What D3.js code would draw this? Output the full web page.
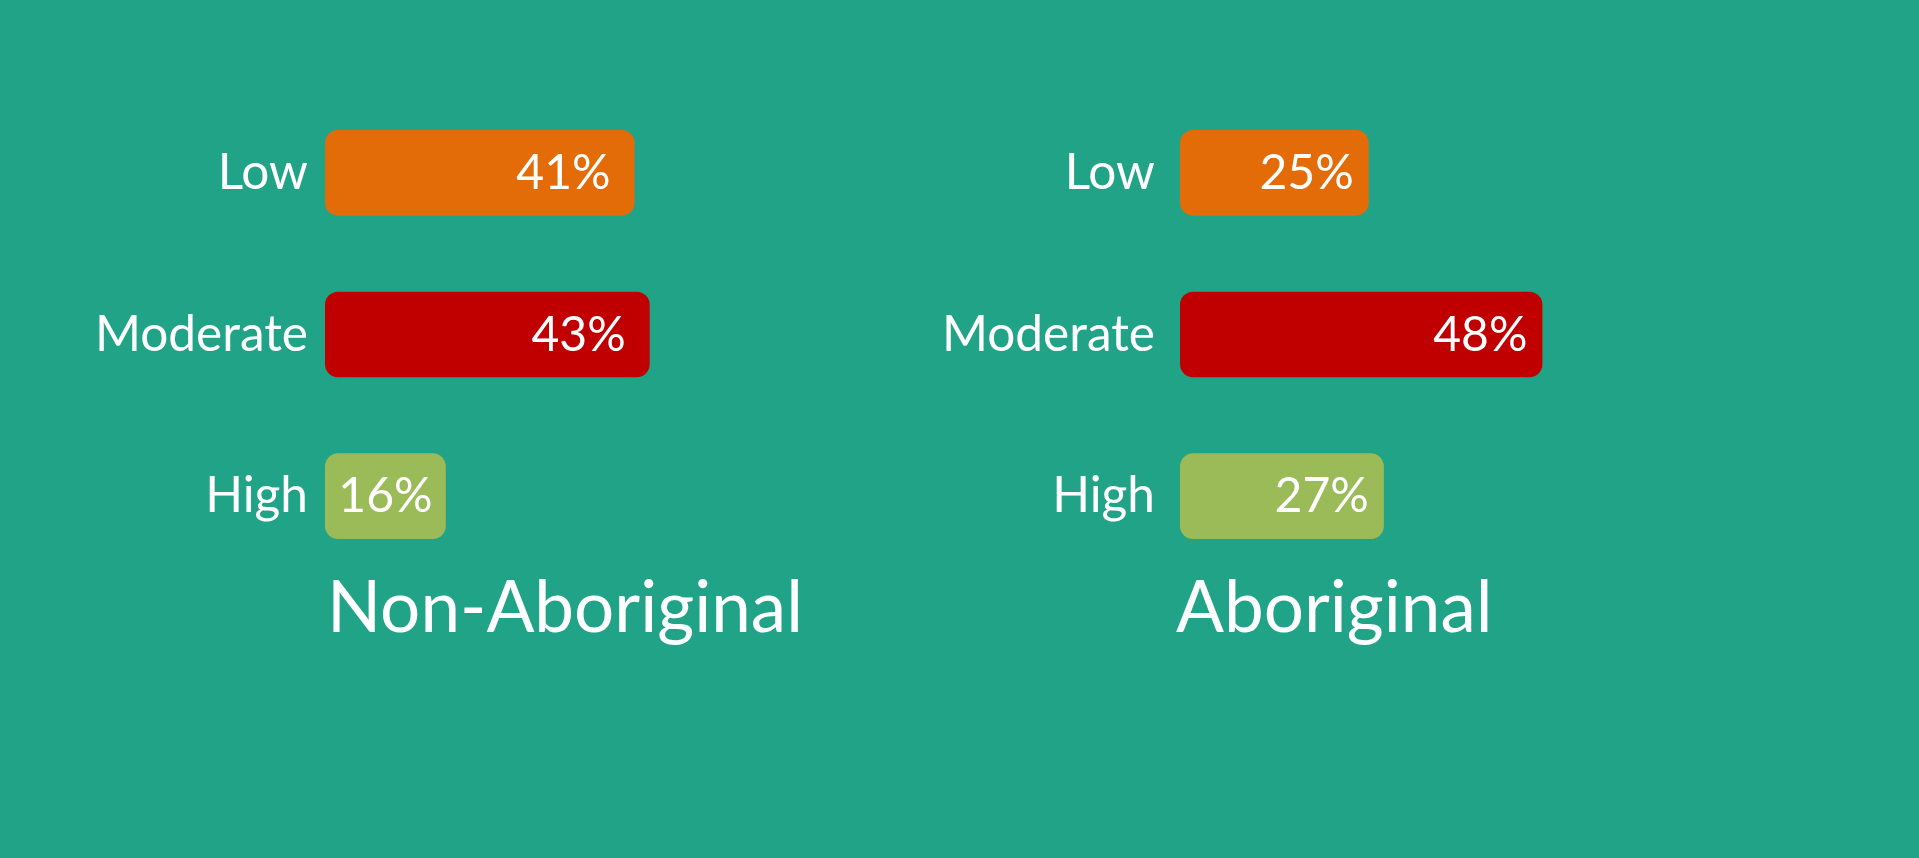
<!DOCTYPE html>
<html><head><meta charset="utf-8">
<script src="https://cdn.jsdelivr.net/npm/d3@7"></script>
<style>html,body{margin:0;padding:0;background:#20A386;overflow:hidden}</style>
</head><body><svg id="c" width="1919" height="858"></svg>
<script>
const categories = ["Low", "Moderate", "High"];
const groups = ["Non-Aboriginal", "Aboriginal"];
const nonAboriginalValues = [41, 43, 16];
const aboriginalValues = [25, 48, 27];
const barColors = ["#E36C09", "#C00000", "#9BBB59"];

const W = 1919, H = 858;
const FONT = "Lato, 'Open Sans', sans-serif";
const svg = d3.select("#c");
svg.append("rect").attr("width", W).attr("height", H).attr("fill", "#20A386");

// fit font sizes to the reference text widths
function fitSize(text, target) {
  const t = svg.append("text").attr("font-family", FONT).attr("font-size", 100).text(text);
  const w = t.node().getComputedTextLength();
  t.remove();
  return 100 * target / w;
}
const labelSize = fitSize("Moderate", 213);
const valueSize = labelSize * 0.97;
const titleSize = fitSize("Non-Aboriginal", 476);
const baseOffset = 16;

const x = d3.scaleLinear().domain([0, 100]).range([0, 755]);
const y = d3.scaleBand().domain(categories).range([92, 577]).paddingInner(0.47).paddingOuter(0.235);
const color = d3.scaleOrdinal().domain(categories).range(barColors);

const panels = [
  {name: groups[0], values: nonAboriginalValues, x0: 325, labelEnd: 308, pad: 24, titleX: 327},
  {name: groups[1], values: aboriginalValues, x0: 1180, labelEnd: 1155, pad: 15, titleX: 1176}
];

panels.forEach(p => {
  const g = svg.append("g");
  const data = categories.map((c, i) => ({cat: c, v: p.values[i]}));
  const cy = d => y(d.cat) + y.bandwidth() / 2 + baseOffset;

  g.selectAll("rect.bar").data(data).join("rect")
    .attr("class", "bar")
    .attr("x", p.x0)
    .attr("y", d => y(d.cat))
    .attr("width", d => x(d.v))
    .attr("height", y.bandwidth())
    .attr("rx", 13).attr("ry", 13)
    .attr("fill", d => color(d.cat));

  g.selectAll("text.cat").data(data).join("text")
    .attr("class", "cat")
    .attr("x", p.labelEnd)
    .attr("y", cy)
    .attr("text-anchor", "end")
    .attr("font-family", FONT).attr("font-size", labelSize)
    .attr("fill", "#fff")
    .text(d => d.cat);

  g.selectAll("text.val").data(data).join("text")
    .attr("class", "val")
    .attr("y", cy)
    .attr("text-anchor", "end")
    .attr("font-family", FONT).attr("font-size", valueSize)
    .attr("fill", "#fff")
    .text(d => d.v + "%")
    .attr("x", function(d) {
      const tw = this.getComputedTextLength();
      const end = p.x0 + x(d.v) - p.pad;
      const centered = p.x0 + x(d.v) / 2 + tw / 2;
      return Math.max(end, centered);
    });

  g.append("text")
    .attr("x", p.titleX)
    .attr("y", 632)
    .attr("font-family", FONT).attr("font-size", titleSize)
    .attr("fill", "#fff")
    .text(p.name);
});
</script></body></html>
